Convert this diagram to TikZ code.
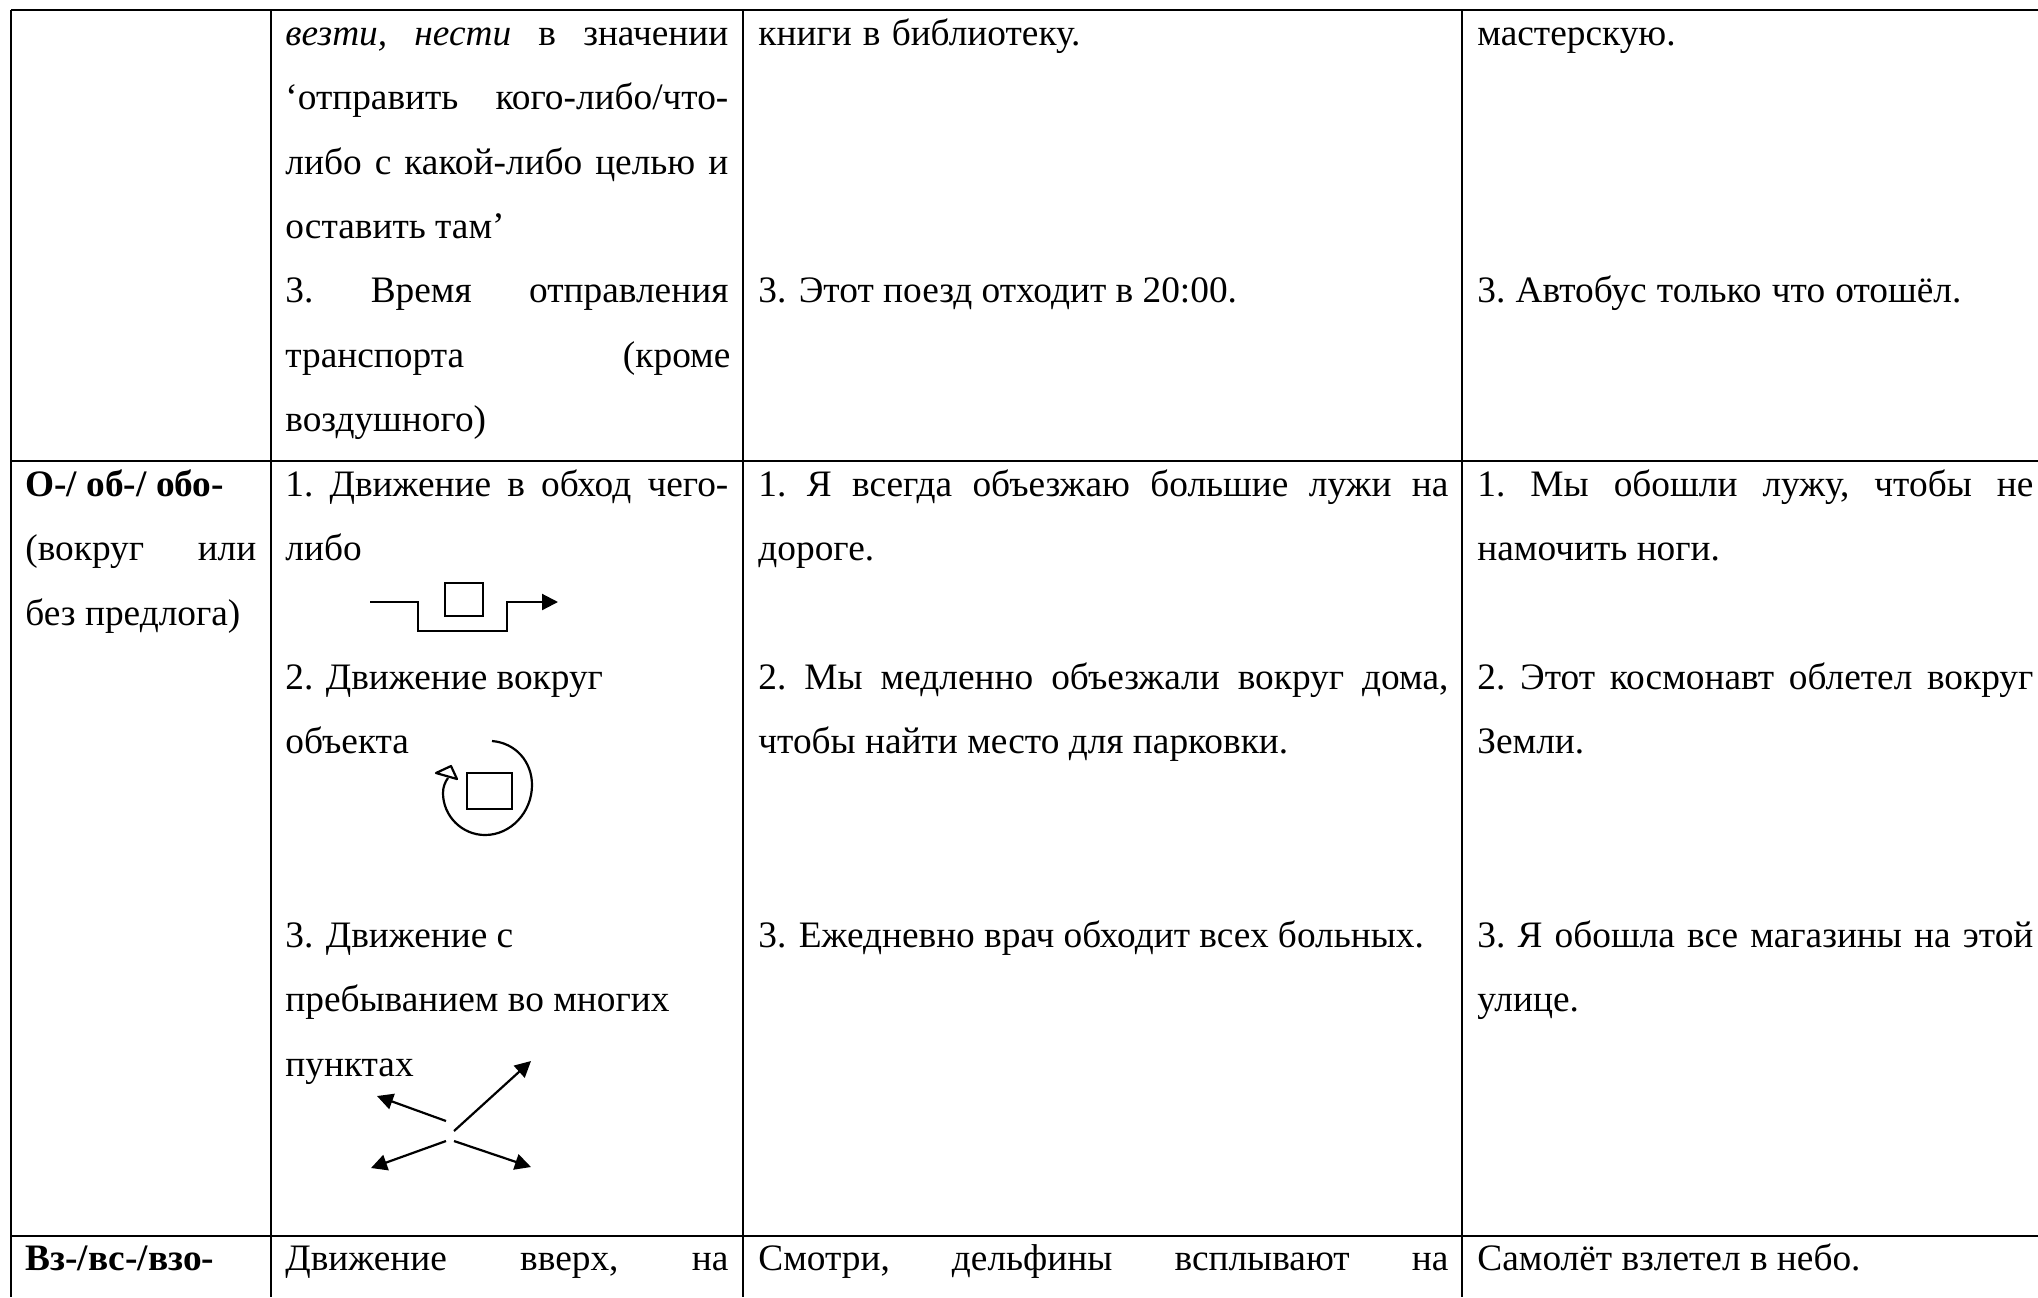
\documentclass[tikz,border=0pt]{standalone}
\usepackage{fontspec}
\setmainfont{Liberation Serif}
\usetikzlibrary{arrows.meta}
\tikzset{
  every picture/.style={x=0.5pt,y=-0.5pt},
  rule/.style={line width=1.2pt,black},
  sk/.style={line width=1.1pt,black},
  tip/.style={sk,-{Triangle[length=8pt,width=8pt]}},
  tx/.style={anchor=base west,inner sep=0pt,font=\fontsize{18.67}{22}\selectfont},
}
\begin{document}
\begin{tikzpicture}
\useasboundingbox (0,0) rectangle (2038,1297);
\fill[white] (0,0) rectangle (2038,1297);
% grid
\coordinate (tl) at (11,10); \coordinate (tr) at (2038,10);
\coordinate (ml) at (11,461); \coordinate (mr) at (2038,461);
\coordinate (nl) at (11,1236); \coordinate (nr) at (2038,1236);
\coordinate (bl) at (11,1297);
\coordinate (c1) at (271,10); \coordinate (c1b) at (271,1297);
\coordinate (c2) at (743,10); \coordinate (c2b) at (743,1297);
\coordinate (c3) at (1462,10); \coordinate (c3b) at (1462,1297);
\draw[rule] (tl)--(tr); \draw[rule] (ml)--(mr); \draw[rule] (nl)--(nr);
\draw[rule] (tl)--(bl); \draw[rule] (c1)--(c1b); \draw[rule] (c2)--(c2b); \draw[rule] (c3)--(c3b);
% column 2
\node[tx] (a1) at (285,45) {\hbox to 221.5pt{\itshape везти,\hfill нести\hfill\upshape в\hfill значении}};
\node[tx] (a2) at (285,109) {\hbox to 221.5pt{‘отправить\hfill кого-либо/что-}};
\node[tx] (a3) at (285,174) {\hbox to 221.5pt{либо\hfill с\hfill какой-либо\hfill целью\hfill и}};
\node[tx] (a4) at (285,238) {оставить там’};
\node[tx] (a5) at (285,302) {\hbox to 221.5pt{3.\hfill Время\hfill отправления}};
\node[tx] (a6) at (285,367) {\hbox to 222.5pt{транспорта\hfill (кроме}};
\node[tx] (a7) at (285,431) {воздушного)};
\node[tx] (b1) at (285,496) {\hbox to 221.5pt{1.\hfill Движение\hfill в\hfill обход\hfill чего-}};
\node[tx] (b2) at (285,560) {либо};
\node[tx] (b3) at (285,689) {2. Движение вокруг};
\node[tx] (b4) at (285,753) {объекта};
\node[tx] (b5) at (285,947) {3. Движение с};
\node[tx] (b6) at (285,1011) {пребыванием во многих};
\node[tx] (b7) at (285,1076) {пунктах};
\node[tx] (d1) at (285,1270) {\hbox to 221.5pt{Движение\hfill вверх,\hfill на}};
% column 1
\node[tx] (p1) at (25,496) {\bfseries О-/ об-/ обо-};
\node[tx] (p2) at (25,560) {\hbox to 115.5pt{(вокруг\hfill или}};
\node[tx] (p3) at (25,625) {без предлога)};
\node[tx] (p4) at (25,1270) {\bfseries Вз-/вс-/взо-};
% column 3
\node[tx] (e1) at (758,45) {\hbox to 161pt{книги\hfill в\hfill библиотеку.}};
\node[tx] (e2) at (758,302) {3. Этот поезд отходит в 20:00.};
\node[tx] (e3) at (758,496) {\hbox to 345pt{1.\hfill Я\hfill всегда\hfill объезжаю\hfill большие\hfill лужи\hfill на}};
\node[tx] (e4) at (758,560) {дороге.};
\node[tx] (e5) at (758,689) {\hbox to 345pt{2.\hfill Мы\hfill медленно\hfill объезжали\hfill вокруг\hfill дома,}};
\node[tx] (e6) at (758,753) {чтобы найти место для парковки.};
\node[tx] (e7) at (758,947) {3. Ежедневно врач обходит всех больных.};
\node[tx] (e8) at (758,1270) {\hbox to 345pt{Смотри,\hfill дельфины\hfill всплывают\hfill на}};
% column 4
\node[tx] (f1) at (1477,45) {мастерскую.};
\node[tx] (f2) at (1477,302) {\hbox to 242pt{3.\hfill Автобус\hfill только\hfill что\hfill отошёл.}};
\node[tx] (f3) at (1477,496) {\hbox to 278pt{1.\hfill Мы\hfill обошли\hfill лужу,\hfill чтобы\hfill не}};
\node[tx] (f4) at (1477,560) {намочить ноги.};
\node[tx] (f5) at (1477,689) {\hbox to 278pt{2.\hfill Этот\hfill космонавт\hfill облетел\hfill вокруг}};
\node[tx] (f6) at (1477,753) {Земли.};
\node[tx] (f7) at (1477,947) {\hbox to 278pt{3.\hfill Я\hfill обошла\hfill все\hfill магазины\hfill на\hfill этой}};
\node[tx] (f8) at (1477,1011) {улице.};
\node[tx] (f9) at (1477,1270) {Самолёт взлетел в небо.};
% sketch 1: detour
\coordinate (s1a) at (370,602); \coordinate (s1b) at (418,602); \coordinate (s1c) at (418,631);
\coordinate (s1d) at (507,631); \coordinate (s1e) at (507,602); \coordinate (s1f) at (558,602);
\draw[tip] (s1a)--(s1b)--(s1c)--(s1d)--(s1e)--(s1f);
\draw[sk] (445,583) rectangle (483,616);
% sketch 2: circuit
\draw[sk] (467,773) rectangle (512,809);
\coordinate (s2a) at (492,741);
\coordinate (s2b) at (448,778);
\draw[sk] (s2a) .. controls (516,743) and (532,762) .. (532,785)
  .. controls (532,812) and (511,835) .. (485,835)
  .. controls (462,835) and (443,816) .. (443,793)
  .. controls (443,787) and (445,782) .. (s2b);
\coordinate (h1) at (436,773); \coordinate (h2) at (451,766); \coordinate (h3) at (457,779);
\draw[sk,line join=round] (h1)--(h2)--(h3)--cycle;
% sketch 3: scatter
\coordinate (s3a) at (446,1121); \coordinate (s3b) at (377,1096);
\coordinate (s3c) at (454,1131); \coordinate (s3d) at (531,1061);
\coordinate (s3e) at (446,1141); \coordinate (s3f) at (371,1168);
\coordinate (s3g) at (454,1141); \coordinate (s3h) at (531,1167);
\draw[tip] (s3a)--(s3b);
\draw[tip] (s3c)--(s3d);
\draw[tip] (s3e)--(s3f);
\draw[tip] (s3g)--(s3h);
\end{tikzpicture}
\end{document}
